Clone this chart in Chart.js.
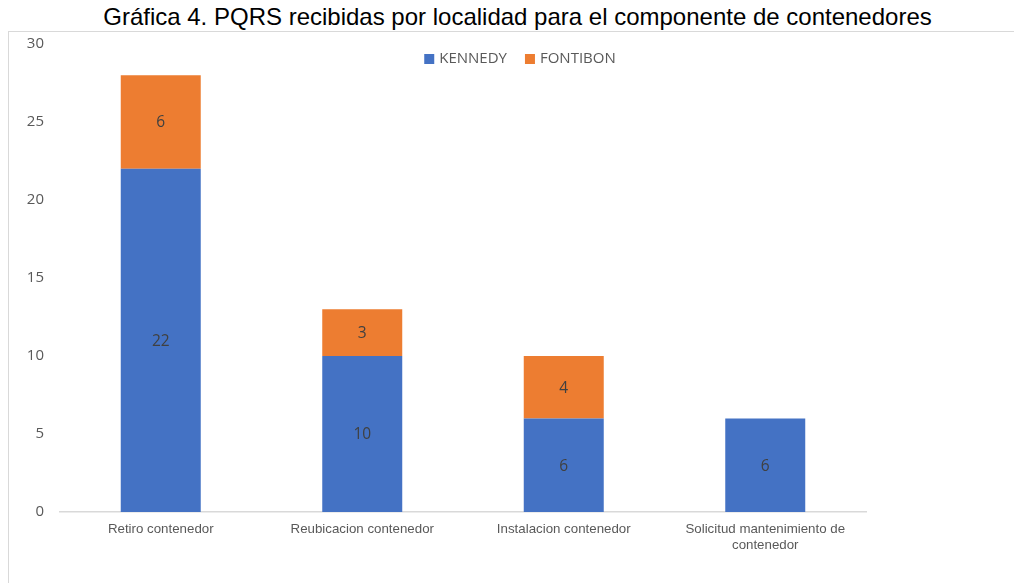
<!DOCTYPE html>
<html><head><meta charset="utf-8">
<script src="https://cdn.jsdelivr.net/npm/chart.js@4"></script>
<style>
html,body{margin:0;padding:0;background:#fff;}
#wrap{position:relative;width:1014px;height:583px;overflow:hidden;}
#title{position:absolute;left:0;top:5px;width:1035px;text-align:center;font:24px/24px "Liberation Sans",Arial,sans-serif;color:#000;white-space:nowrap;}
#box{position:absolute;left:8px;top:31px;width:1100px;height:600px;border:1px solid #d9d9d9;box-sizing:border-box;pointer-events:none;}
canvas{position:absolute;left:0;top:0;}
</style></head>
<body>
<div id="wrap">
  <div id="box"></div>
  <div id="title">Gráfica 4. PQRS recibidas por localidad para el componente de contenedores</div>
  <canvas id="c" width="1014" height="583"></canvas>
</div>
<script>
const categories = ['Retiro contenedor', 'Reubicacion contenedor', 'Instalacion contenedor', ['Solicitud mantenimiento de', 'contenedor']];
const seriesNames = ['KENNEDY', 'FONTIBON'];
const kennedy = [22, 10, 6, 6];
const fontibon = [6, 3, 4, null];
const yTicks = [0, 5, 10, 15, 20, 25, 30];

const colors = ['#4472C4', '#ED7D31'];

const valueLabels = {
  id: 'valueLabels',
  afterDatasetsDraw(chart) {
    const ctx = chart.ctx;
    ctx.save();
    ctx.font = '15.5px "Open Sans"';
    ctx.fillStyle = '#404040';
    ctx.textAlign = 'center';
    ctx.textBaseline = 'middle';
    chart.data.datasets.forEach((ds, i) => {
      chart.getDatasetMeta(i).data.forEach((bar, j) => {
        const v = ds.data[j];
        if (v == null || v === 0) return;
        const p = bar.getProps(['x', 'y', 'base'], true);
        ctx.fillText(String(v), p.x, (p.y + p.base) / 2 + 1);
      });
    });
    ctx.restore();
  }
};

const topLegend = {
  id: 'topLegend',
  afterDraw(chart) {
    const ctx = chart.ctx;
    ctx.save();
    ctx.font = '15px "Open Sans"';
    ctx.textBaseline = 'middle';
    const box = 10, gapText = 5, gapItem = 18;
    const items = chart.data.datasets.map(d => ({ label: d.label, color: d.backgroundColor, w: box + gapText + ctx.measureText(d.label).width }));
    const total = items.reduce((s, it) => s + it.w, 0) + gapItem * (items.length - 1);
    let x = 520 - total / 2;
    const cy = 59;
    items.forEach(it => {
      ctx.fillStyle = it.color;
      ctx.fillRect(x, cy - box / 2, box, box);
      ctx.fillStyle = '#595959';
      ctx.fillText(it.label, x + box + gapText, cy);
      x += it.w + gapItem;
    });
    ctx.restore();
  }
};

new Chart(document.getElementById('c'), {
  type: 'bar',
  data: {
    labels: categories,
    datasets: [
      { label: seriesNames[0], data: kennedy, backgroundColor: colors[0], borderWidth: 0 },
      { label: seriesNames[1], data: fontibon, backgroundColor: colors[1], borderWidth: 0 }
    ]
  },
  options: {
    responsive: false,
    animation: false,
    devicePixelRatio: 1,
    layout: { padding: { left: 0, right: 148, top: 44, bottom: 0 } },
    datasets: { bar: { categoryPercentage: 1, barPercentage: 0.397 } },
    plugins: { legend: { display: false }, tooltip: { enabled: false }, title: { display: false } },
    scales: {
      x: {
        stacked: true,
        grid: { display: false, drawTicks: false },
        border: { display: true, color: '#d9d9d9', width: 1.5 },
        ticks: { color: '#595959', font: { family: '"Liberation Sans", Arial', size: 13.3, lineHeight: 1.2 }, padding: 9, maxRotation: 0, autoSkip: false },
        afterFit(s) { s.height = 71; }
      },
      y: {
        stacked: true,
        min: yTicks[0],
        max: yTicks[yTicks.length - 1],
        grid: { display: false, drawTicks: false },
        border: { display: false },
        ticks: { stepSize: yTicks[1] - yTicks[0], color: '#595959', font: { family: '"Open Sans"', size: 15 }, padding: 16 },
        afterFit(s) { s.width = 60; }
      }
    }
  },
  plugins: [valueLabels, topLegend]
});
</script>
</body></html>
